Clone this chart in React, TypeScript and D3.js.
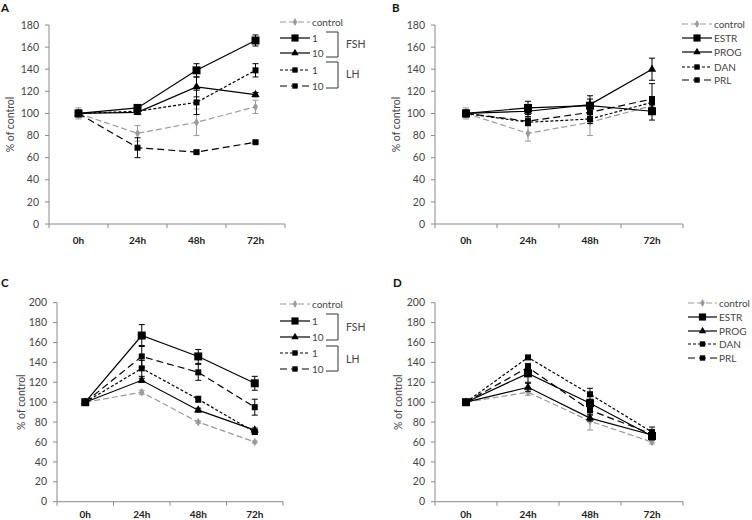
import React from "react";
import * as d3 from "d3";

// ---------- data ----------
const timepoints = ["0h", "24h", "48h", "72h"];
const yTicksAB = [0, 20, 40, 60, 80, 100, 120, 140, 160, 180];
const yTicksCD = [0, 20, 40, 60, 80, 100, 120, 140, 160, 180, 200];

// Panel A
const aControl = [100, 82, 92, 106];
const aControlErr = [5, 7, 12, 6];
const aFsh1 = [100, 105, 139, 166];
const aFsh1Err = [3, 3, 6, 5];
const aFsh10 = [100, 101, 124, 117];
const aFsh10Err = [2, 2, 9, 2];
const aLh1 = [100, 102, 110, 139];
const aLh1Err = [2, 2, 11, 6];
const aLh10 = [100, 69, 65, 74];
const aLh10Err = [2, 9, 1, 1];

// Panel B
const bControl = [100, 82, 92, 107];
const bControlErr = [5, 7, 12, 5];
const bEstr = [100, 105, 107, 102];
const bEstrErr = [3, 6, 6, 8];
const bProg = [100, 102, 108, 140];
const bProgErr = [3, 5, 8, 10];
const bDan = [100, 92, 95, 110];
const bDanErr = [2, 3, 4, 5];
const bPrl = [100, 93, 101, 113];
const bPrlErr = [2, 4, 5, 14];

// Panel C
const cControl = [100, 110, 80, 60];
const cControlErr = [1, 2, 1, 1];
const cFsh1 = [100, 167, 146, 119];
const cFsh1Err = [2, 11, 7, 7];
const cFsh10 = [100, 122, 92, 72];
const cFsh10Err = [1, 2, 2, 2];
const cLh1 = [100, 134, 103, 70];
const cLh1Err = [1, 8, 3, 2];
const cLh10 = [100, 146, 130, 95];
const cLh10Err = [1, 11, 8, 8];

// Panel D
const dControl = [100, 110, 81, 60];
const dControlErr = [1, 3, 9, 2];
const dEstr = [100, 129, 99, 66];
const dEstrErr = [1, 9, 4, 4];
const dProg = [100, 115, 84, 67];
const dProgErr = [1, 4, 3, 3];
const dDan = [100, 145, 108, 70];
const dDanErr = [1, 2, 6, 5];
const dPrl = [100, 135, 92, 68];
const dPrlErr = [1, 4, 4, 3];

const legendAC = ["control", "1", "10", "1", "10"];
const legendBD = ["control", "ESTR", "PROG", "DAN", "PRL"];

// ---------- styles ----------
const FONT = "Lato, 'Open Sans', sans-serif";
const AXIS = "#8a8a8a";
const TXT = "#444";
const GRAY = "#9a9a9a";
const FS = 10.5;
const LFS = 10;

type Style = { color: string; dash?: string; marker: "sq" | "sqs" | "tri" | "dia"; width: number };
const styles: Style[] = [
  { color: GRAY, dash: "6,3", marker: "dia", width: 1.2 },
  { color: "#000", marker: "sq", width: 1.2 },
  { color: "#000", marker: "tri", width: 1.2 },
  { color: "#000", dash: "3,2", marker: "sqs", width: 1.2 },
  { color: "#000", dash: "7,4", marker: "sqs", width: 1.2 },
];

function Marker({ x, y, kind, color, scale = 1 }: { x: number; y: number; kind: Style["marker"]; color: string; scale?: number }) {
  const sym =
    kind === "tri" ? d3.symbolTriangle : kind === "dia" ? d3.symbolDiamond : d3.symbolSquare;
  const size = (kind === "sq" ? 64 : kind === "sqs" ? 36 : kind === "tri" ? 30 : 22) * scale;
  const p = d3.symbol().type(sym).size(size)() as string;
  return <path d={p} transform={`translate(${x},${y})`} fill={color} />;
}

type PanelProps = {
  letter: string;
  letterX: number;
  letterY: number;
  x0: number;
  x1: number;
  yTop: number;
  yBot: number;
  yMax: number;
  ticks: number[];
  series: number[][];
  errors: number[][];
  catY: number;
  labelX: number;
};

function Panel(p: PanelProps) {
  const x = d3.scaleBand<string>().domain(timepoints).range([p.x0, p.x1]).padding(0);
  const y = d3.scaleLinear().domain([0, p.yMax]).range([p.yBot, p.yTop]);
  const cx = (t: string) => (x(t) as number) + x.bandwidth() / 2;
  const line = d3
    .line<number>()
    .x((_, i) => cx(timepoints[i]))
    .y((v) => y(v));
  const boundaries = timepoints.map((t) => x(t) as number).concat([p.x1]);
  return (
    <g>
      <text x={p.letterX} y={p.letterY} fontFamily={FONT} fontWeight="bold" fontSize={11.5} fill="#111">
        {p.letter}
      </text>
      {/* y axis */}
      <line x1={p.x0} x2={p.x0} y1={p.yTop} y2={p.yBot} stroke={AXIS} strokeWidth={1} />
      {p.ticks.map((t) => (
        <g key={t}>
          <line x1={p.x0 - 4} x2={p.x0} y1={y(t)} y2={y(t)} stroke={AXIS} />
          <text
            x={p.x0 - 10}
            y={y(t)}
            dy="0.35em"
            textAnchor="end"
            fontFamily={FONT}
            fontSize={FS}
            fill={TXT}
          >
            {t}
          </text>
        </g>
      ))}
      {/* x axis */}
      <line x1={p.x0} x2={p.x1} y1={p.yBot} y2={p.yBot} stroke={AXIS} />
      {boundaries.map((b, i) => (
        <line key={i} x1={b} x2={b} y1={p.yBot} y2={p.yBot + 4} stroke={AXIS} />
      ))}
      {timepoints.map((t) => (
        <text
          key={t}
          x={cx(t)}
          y={p.catY}
          textAnchor="middle"
          fontFamily={FONT}
          fontWeight="bold"
          fontSize={10}
          fill="#222"
        >
          {t}
        </text>
      ))}
      <text
        transform={`translate(${p.labelX},${(p.yTop + p.yBot) / 2}) rotate(-90)`}
        textAnchor="middle"
        dy="0.35em"
        fontFamily={FONT}
        fontSize={FS}
        fill={TXT}
      >
        % of control
      </text>
      {/* series */}
      {p.series.map((s, si) => {
        const st = styles[si];
        return (
          <g key={si}>
            <path
              d={line(s) as string}
              fill="none"
              stroke={st.color}
              strokeWidth={st.width}
              strokeDasharray={st.dash}
            />
            {s.map((v, i) => {
              const e = p.errors[si][i];
              const xx = cx(timepoints[i]);
              return (
                <g key={i}>
                  <line x1={xx} x2={xx} y1={y(v - e)} y2={y(v + e)} stroke={st.color} strokeWidth={1} />
                  <line x1={xx - 3} x2={xx + 3} y1={y(v - e)} y2={y(v - e)} stroke={st.color} strokeWidth={1} />
                  <line x1={xx - 3} x2={xx + 3} y1={y(v + e)} y2={y(v + e)} stroke={st.color} strokeWidth={1} />
                </g>
              );
            })}
            {s.map((v, i) => (
              <Marker key={"m" + i} x={cx(timepoints[i])} y={y(v)} kind={st.marker} color={st.color} />
            ))}
          </g>
        );
      })}
    </g>
  );
}

type LegendProps = {
  lx0: number;
  lx1: number;
  rows: number[];
  labels: string[];
  brackets?: { top: number; bot: number; name: string; ny: number; x0: number }[];
  bx?: number;
};

function Legend(l: LegendProps) {
  const mid = (l.lx0 + l.lx1) / 2;
  return (
    <g>
      {l.rows.map((ry, i) => {
        const st = styles[i];
        return (
          <g key={i}>
            <line
              x1={l.lx0}
              x2={l.lx1}
              y1={ry}
              y2={ry}
              stroke={st.color}
              strokeWidth={st.width}
              strokeDasharray={st.dash}
            />
            <Marker x={mid} y={ry} kind={st.marker} color={st.color} scale={0.8} />
            <text x={l.lx1 + 2} y={ry} dy="0.35em" fontFamily={FONT} fontSize={LFS} fill={TXT}>
              {l.labels[i]}
            </text>
          </g>
        );
      })}
      {l.brackets &&
        l.brackets.map((b, i) => (
          <g key={"b" + i}>
            <path
              d={`M${b.x0},${b.top}H${l.bx}V${b.bot}H${b.x0}`}
              fill="none"
              stroke="#333"
              strokeWidth={1}
            />
            <text x={(l.bx as number) + 8} y={b.ny} dy="0.35em" fontFamily={FONT} fontSize={FS} fill={TXT}>
              {b.name}
            </text>
          </g>
        ))}
    </g>
  );
}

export default function App() {
  return (
    <svg
      width={752}
      height={520}
      style={{ position: "absolute", left: 0, top: 0, background: "#fff" }}
    >
      <rect width={752} height={520} fill="#fff" />
      <Panel
        letter="A"
        letterX={1}
        letterY={12}
        x0={49}
        x1={285}
        yTop={25}
        yBot={224}
        yMax={180}
        ticks={yTicksAB}
        series={[aControl, aFsh1, aFsh10, aLh1, aLh10]}
        errors={[aControlErr, aFsh1Err, aFsh10Err, aLh1Err, aLh10Err]}
        catY={244}
        labelX={10}
      />
      <Legend
        lx0={280}
        lx1={310}
        rows={[22, 38, 53, 70, 86]}
        labels={legendAC}
        bx={338}
        brackets={[
          { top: 32, bot: 57, name: "FSH", ny: 44, x0: 326 },
          { top: 62, bot: 88, name: "LH", ny: 74, x0: 326 },
        ]}
      />
      <Panel
        letter="B"
        letterX={392}
        letterY={12}
        x0={435}
        x1={683}
        yTop={25}
        yBot={224}
        yMax={180}
        ticks={yTicksAB}
        series={[bControl, bEstr, bProg, bDan, bPrl]}
        errors={[bControlErr, bEstrErr, bProgErr, bDanErr, bPrlErr]}
        catY={244}
        labelX={396}
      />
      <Legend lx0={682} lx1={712} rows={[24, 38, 52, 67, 80]} labels={legendBD} />
      <Panel
        letter="C"
        letterX={1}
        letterY={287}
        x0={57}
        x1={283}
        yTop={302.7}
        yBot={501.7}
        yMax={200}
        ticks={yTicksCD}
        series={[cControl, cFsh1, cFsh10, cLh1, cLh10]}
        errors={[cControlErr, cFsh1Err, cFsh10Err, cLh1Err, cLh10Err]}
        catY={518}
        labelX={21}
      />
      <Legend
        lx0={280}
        lx1={310}
        rows={[304, 321, 337, 353, 369]}
        labels={legendAC}
        bx={338}
        brackets={[
          { top: 314, bot: 340, name: "FSH", ny: 327, x0: 326 },
          { top: 346, bot: 371, name: "LH", ny: 359, x0: 326 },
        ]}
      />
      <Panel
        letter="D"
        letterX={393}
        letterY={287}
        x0={435}
        x1={683}
        yTop={302.7}
        yBot={501.7}
        yMax={200}
        ticks={yTicksCD}
        series={[dControl, dEstr, dProg, dDan, dPrl]}
        errors={[dControlErr, dEstrErr, dProgErr, dDanErr, dPrlErr]}
        catY={518}
        labelX={398}
      />
      <Legend lx0={688} lx1={717} rows={[303, 317, 331, 344, 358]} labels={legendBD} />
    </svg>
  );
}
